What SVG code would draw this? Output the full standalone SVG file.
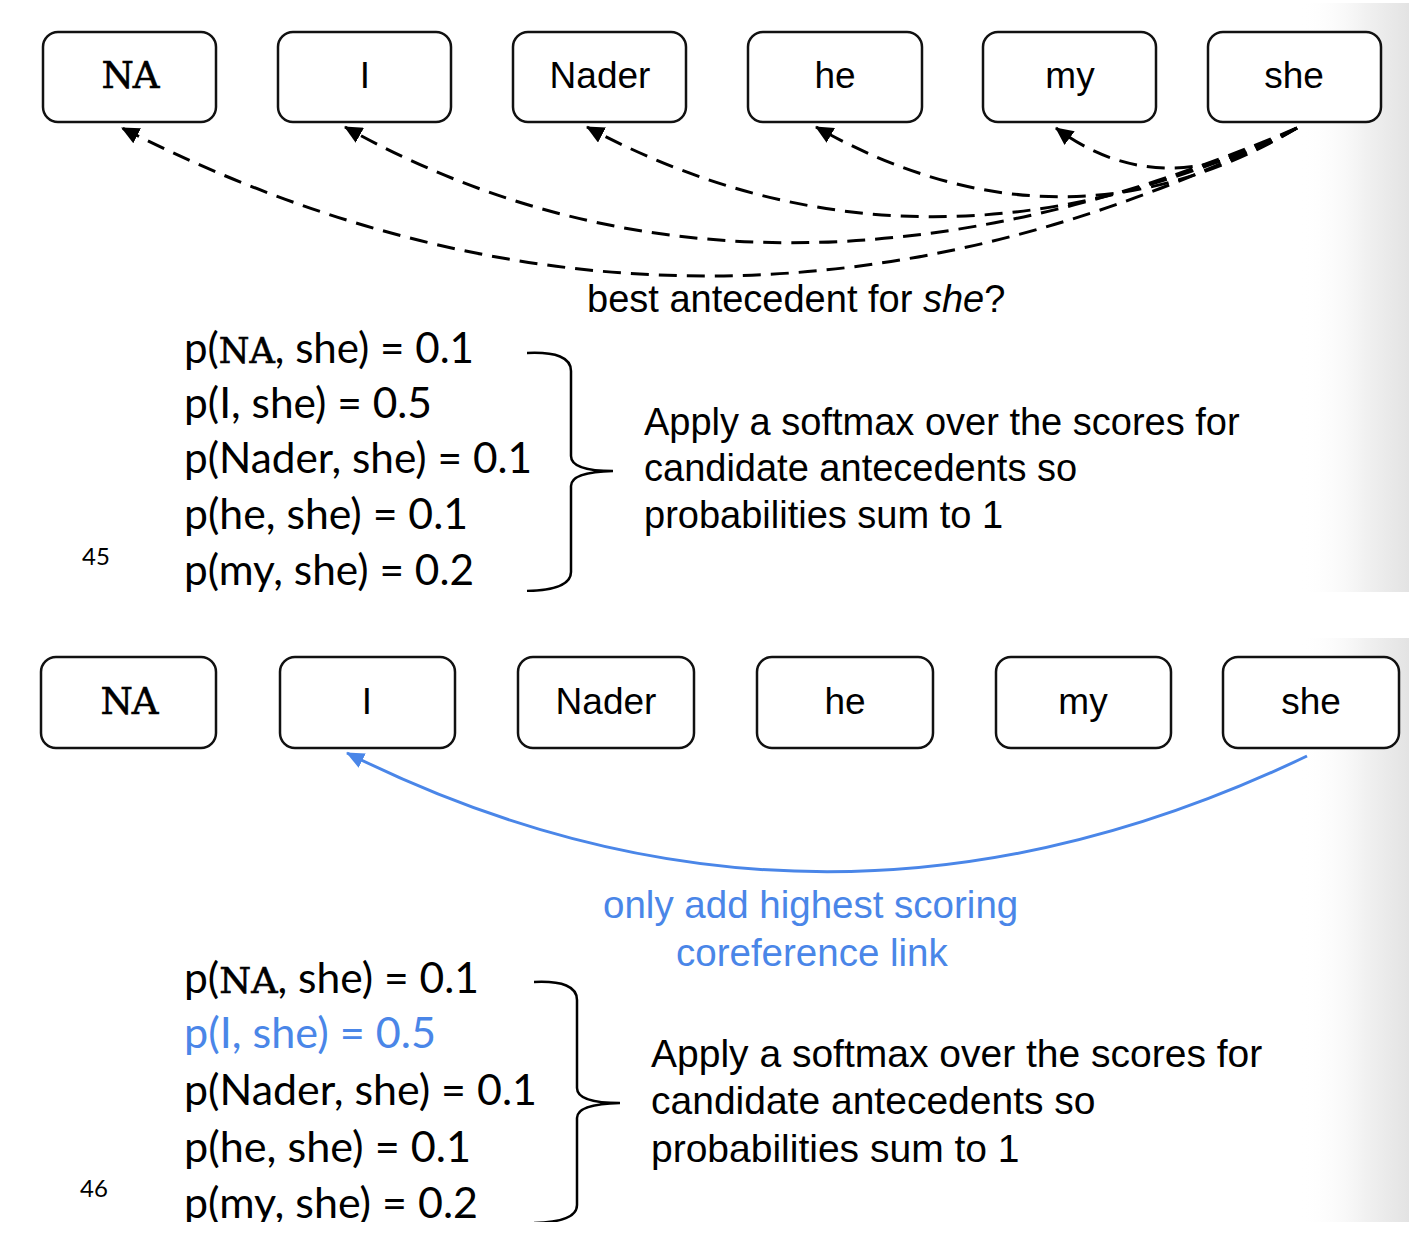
<svg xmlns="http://www.w3.org/2000/svg" width="1414" height="1248" viewBox="0 0 1414 1248">
<style>
.box{fill:#fff;stroke:#111;stroke-width:2.5}
.lbl{font-family:"Liberation Sans",Arial,sans-serif;font-size:37px;fill:#000;text-anchor:middle}
.sans{font-family:"Liberation Sans",Arial,sans-serif;fill:#000}
.prob{font-family:Lato,"Open Sans",sans-serif;font-size:42px;fill:#000}
.pg{font-family:Lato,"Open Sans",sans-serif;font-size:24px;fill:#000}
.dash{fill:none;stroke:#000;stroke-width:3;stroke-dasharray:18 10;marker-end:url(#ah)}
.blue{fill:none;stroke:#4a86e8;stroke-width:3;marker-end:url(#ahb)}
.brace{fill:none;stroke:#000;stroke-width:2.5}
.bt{fill:#4a86e8}
text.mono,tspan.mono{font-family:"DejaVu Serif",serif;stroke:#000;stroke-width:0.6}
</style>
<defs>
<marker id="ah" markerUnits="userSpaceOnUse" markerWidth="18" markerHeight="17" viewBox="0 0 18 17" refX="17" refY="8.5" orient="auto"><path d="M0,0 L18,8.5 L0,17 z" fill="#000"/></marker>
<marker id="ahb" markerUnits="userSpaceOnUse" markerWidth="18" markerHeight="16" viewBox="0 0 18 16" refX="17" refY="8" orient="auto"><path d="M0,0 L18,8 L0,16 z" fill="#4a86e8"/></marker>
<linearGradient id="sh" x1="0" y1="0" x2="1" y2="0">
<stop offset="0" stop-color="#ffffff" stop-opacity="0"/>
<stop offset="0.6" stop-color="#f1f1f1"/>
<stop offset="1" stop-color="#e3e3e3"/>
</linearGradient>
<clipPath id="c1"><rect x="0" y="0" width="1414" height="592"/></clipPath>
<clipPath id="c2"><rect x="0" y="600" width="1414" height="622"/></clipPath>
</defs>
<rect width="1414" height="1248" fill="#fff"/>

<g id="panel-45" clip-path="url(#c1)">
<rect x="1300" y="3" width="109" height="589" fill="url(#sh)"/>
<g id="t-na"><rect class="box" x="43" y="32" width="173" height="90" rx="15"/><text class="lbl mono" x="130" y="88" font-size="31" letter-spacing="-1">NA</text></g>
<g id="t-i"><rect class="box" x="278" y="32" width="173" height="90" rx="15"/><text class="lbl" x="365" y="88">I</text></g>
<g id="t-nader"><rect class="box" x="513" y="32" width="173" height="90" rx="15"/><text class="lbl" x="600" y="88">Nader</text></g>
<g id="t-he"><rect class="box" x="748" y="32" width="174" height="90" rx="15"/><text class="lbl" x="835" y="88">he</text></g>
<g id="t-my"><rect class="box" x="983" y="32" width="173" height="90" rx="15"/><text class="lbl" x="1070" y="88">my</text></g>
<g id="t-she"><rect class="box" x="1208" y="32" width="173" height="90" rx="15"/><text class="lbl" x="1294" y="88">she</text></g>
<g id="t-connectors">
<path class="dash" d="M1297,128 Q704,424 122,128"/>
<path class="dash" d="M1297,128 Q759,358 345,127"/>
<path class="dash" d="M1297,128 Q922,306 587,127"/>
<path class="dash" d="M1297,128 Q1063,266 816,127"/>
<path class="dash" d="M1297,128 Q1163,208 1056,128"/>
</g>
<text id="t-question" class="sans" x="587" y="312" font-size="38">best antecedent for <tspan font-style="italic">she</tspan>?</text>
<g id="t-probs">
<text class="prob" x="184" y="363" textLength="290" lengthAdjust="spacingAndGlyphs">p(<tspan class="mono" font-size="35">NA</tspan>, she) = 0.1</text>
<text class="prob" x="184" y="418" textLength="248" lengthAdjust="spacingAndGlyphs">p(I, she) = 0.5</text>
<text class="prob" x="184" y="473" textLength="348" lengthAdjust="spacingAndGlyphs">p(Nader, she) = 0.1</text>
<text class="prob" x="184" y="529" textLength="284" lengthAdjust="spacingAndGlyphs">p(he, she) = 0.1</text>
<text class="prob" x="184" y="585" textLength="290" lengthAdjust="spacingAndGlyphs">p(my, she) = 0.2</text>
</g>
<path id="t-brace" class="brace" d="M527,353 Q571,351 571,371 L571,456 Q571,471 613,471 Q571,472 571,486 L571,572 Q571,590 527,591"/>
<g id="t-note" class="sans" font-size="38">
<text x="644" y="435">Apply a softmax over the scores for</text>
<text x="644" y="481">candidate antecedents so</text>
<text x="644" y="528">probabilities sum to 1</text>
</g>
<text class="pg" x="82" y="565">45</text>
</g>

<g id="panel-46" clip-path="url(#c2)">
<rect x="1300" y="638" width="109" height="584" fill="url(#sh)"/>
<g id="b-na"><rect class="box" x="41" y="657" width="175" height="91" rx="15"/><text class="lbl mono" x="129" y="714" font-size="31" letter-spacing="-1">NA</text></g>
<g id="b-i"><rect class="box" x="280" y="657" width="175" height="91" rx="15"/><text class="lbl" x="367" y="714">I</text></g>
<g id="b-nader"><rect class="box" x="518" y="657" width="176" height="91" rx="15"/><text class="lbl" x="606" y="714">Nader</text></g>
<g id="b-he"><rect class="box" x="757" y="657" width="176" height="91" rx="15"/><text class="lbl" x="845" y="714">he</text></g>
<g id="b-my"><rect class="box" x="996" y="657" width="175" height="91" rx="15"/><text class="lbl" x="1083" y="714">my</text></g>
<g id="b-she"><rect class="box" x="1223" y="657" width="176" height="91" rx="15"/><text class="lbl" x="1311" y="714">she</text></g>
<g id="b-connectors">
<path class="blue" d="M1307,756 Q821,989 347,753"/>
</g>
<g id="b-label" class="sans bt" font-size="38.5">
<text x="603" y="918" class="bt">only add highest scoring</text>
<text x="676" y="966" class="bt">coreference link</text>
</g>
<g id="b-probs">
<text class="prob" x="184" y="993" textLength="295" lengthAdjust="spacingAndGlyphs">p(<tspan class="mono" font-size="36">NA</tspan>, she) = 0.1</text>
<text class="prob bt" x="184" y="1048" textLength="252" lengthAdjust="spacingAndGlyphs">p(I, she) = 0.5</text>
<text class="prob" x="184" y="1105" textLength="353" lengthAdjust="spacingAndGlyphs">p(Nader, she) = 0.1</text>
<text class="prob" x="184" y="1162" textLength="287" lengthAdjust="spacingAndGlyphs">p(he, she) = 0.1</text>
<text class="prob" x="184" y="1218" textLength="294" lengthAdjust="spacingAndGlyphs">p(my, she) = 0.2</text>
</g>
<path id="b-brace" class="brace" d="M534,982 Q577,980 577,1000 L577,1088 Q577,1103 620,1103 Q577,1104 577,1118 L577,1205 Q577,1222 534,1223"/>
<g id="b-note" class="sans" font-size="39">
<text x="651" y="1067">Apply a softmax over the scores for</text>
<text x="651" y="1114">candidate antecedents so</text>
<text x="651" y="1162">probabilities sum to 1</text>
</g>
<text class="pg" x="80" y="1197">46</text>
</g>
</svg>
